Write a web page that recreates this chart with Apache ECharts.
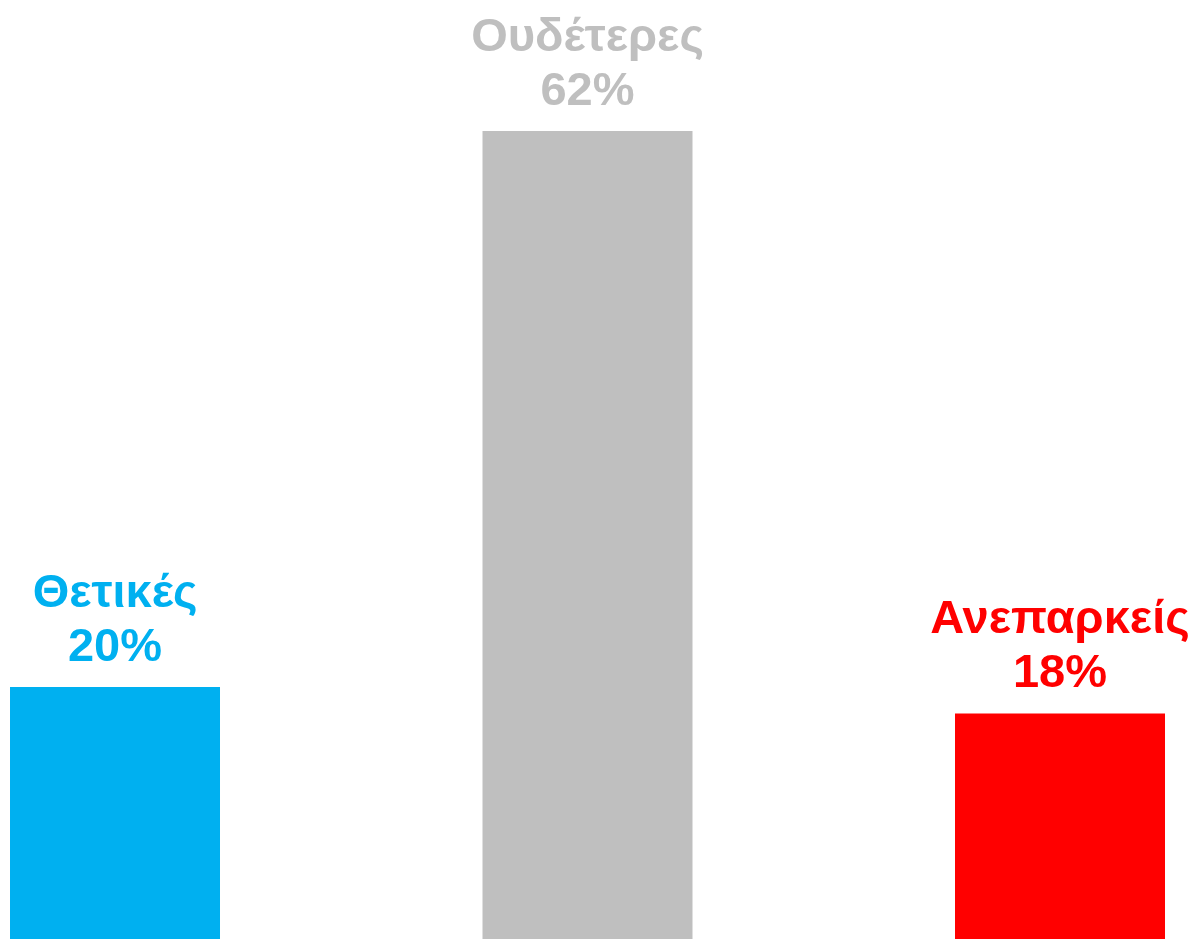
<!DOCTYPE html>
<html>
<head>
<meta charset="utf-8">
<script src="https://cdn.jsdelivr.net/npm/echarts@6/dist/echarts.min.js"></script>
<style>
  html, body { margin: 0; padding: 0; background: #fff; }
  #chart { width: 1195px; height: 939px; }
</style>
</head>
<body>
<div id="chart"></div>
<script>
// κατηγορίες και τιμές (%)
var categories = ["Θετικές", "Ουδέτερες", "Ανεπαρκείς"];
var values = [20, 62, 18];
var colors = ["#00B0F0", "#BFBFBF", "#FF0000"];

var chart = echarts.init(document.getElementById("chart"));

// x = θέση κατηγορίας (0,1,2), ώστε ο άξονας να κόβεται όπως στο πρωτότυπο
var data = values.map(function (v, i) {
  return {
    value: [i, v],
    itemStyle: { color: colors[i] },
    label: { color: colors[i] }
  };
});

chart.setOption({
  animation: false,
  grid: { left: 0, right: 0, top: 131, bottom: 0 },
  xAxis: {
    type: "value",
    min: -0.2434,
    max: 2.2857,
    show: false,
    splitLine: { show: false }
  },
  yAxis: {
    type: "value",
    // η κάτω άκρη της εικόνας κόβει τις μπάρες λίγο πάνω από το μηδέν
    min: 0.96,
    max: 62,
    show: false,
    splitLine: { show: false }
  },
  series: [{
    type: "bar",
    barWidth: 210,
    data: data,
    label: {
      show: true,
      position: "top",
      distance: 12,
      fontFamily: "Liberation Sans, Arial, sans-serif",
      fontWeight: "bold",
      fontSize: 47,
      lineHeight: 54,
      formatter: function (p) {
        return categories[p.dataIndex] + "\n" + p.value[1] + "%";
      }
    }
  }]
});
</script>
</body>
</html>
